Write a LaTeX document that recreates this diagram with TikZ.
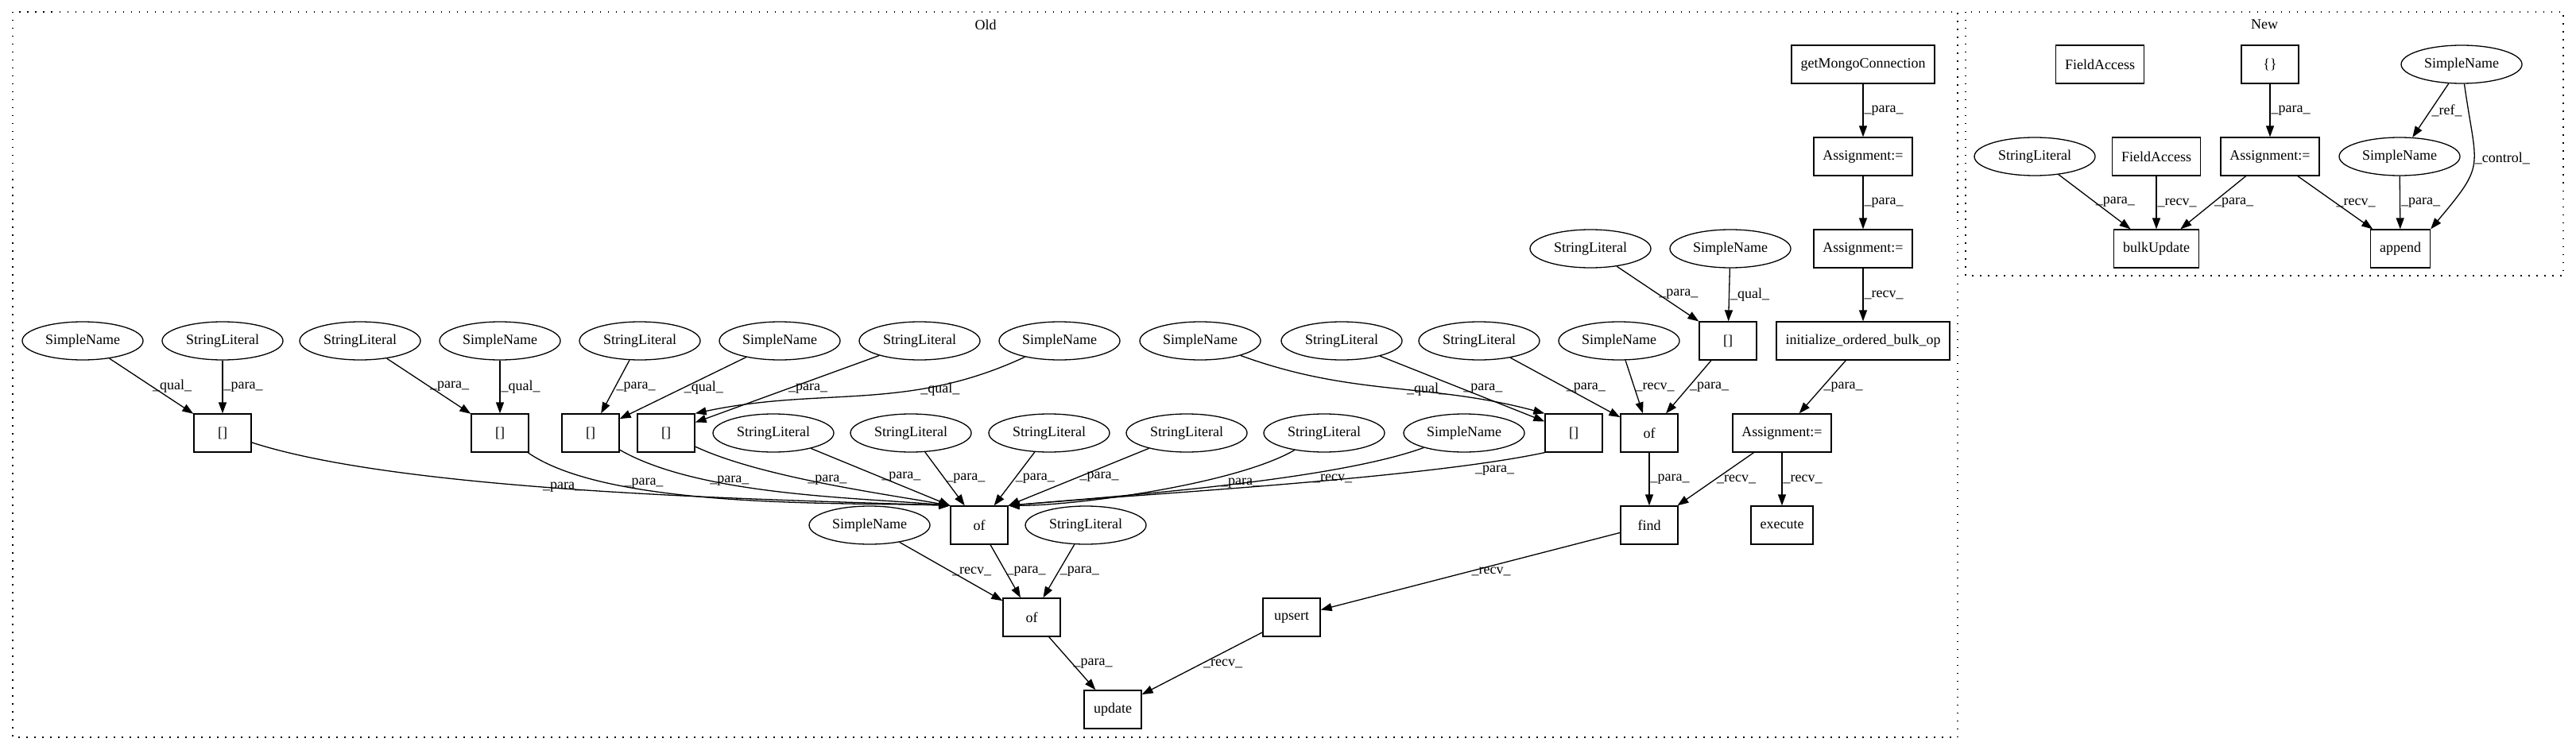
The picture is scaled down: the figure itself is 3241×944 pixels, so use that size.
\documentclass[tikz,border=0pt]{standalone}
\usepackage{fontspec}
\setmainfont{Liberation Serif}
\usetikzlibrary{shapes.geometric,arrows.meta}

\tikzset{
	box/.style={draw, rectangle, minimum width=72pt, minimum height=48pt, inner xsep=11.5pt},
	oval/.style={draw, ellipse, minimum width=152pt, minimum height=48pt, inner sep=0pt},
	lbl/.style={anchor=west, inner sep=1pt},
	frame/.style={draw, line width=1.5pt, dash pattern=on 1.5pt off 8.5pt}
}

\begin{document}
\begin{tikzpicture}[x=1pt, y=-1pt, line width=1.3pt, font=\fontsize{18}{22}\selectfont, >={Triangle[length=14pt,width=10pt]}]
			\useasboundingbox (0,0) rectangle (3241,944);
			\draw[frame] (16,15) rectangle (2463,928);
			\draw[frame] (2473,15) rectangle (3225,347);
			\node	(old) at (1240,31) {Old};
			\node	(new) at (2849,31) {New};
			
			\node	(gmc) at (2344,81) [box] {getMongoConnection};
			\node	(as1) at (2344,197) [box] {Assignment:=};
			\node	(sl3) at (2001,313) [oval] {StringLiteral};
			\node	(sn3) at (2177,313) [oval] {SimpleName};
			\node	(as2) at (2344,313) [box] {Assignment:=};
			
			\node	(e1) at (104,429) [oval] {SimpleName};
			\node	(e2) at (280,429) [oval] {StringLiteral};
			\node	(e3) at (453,429) [oval] {StringLiteral};
			\node	(e4) at (629,429) [oval] {SimpleName};
			\node	(e5) at (805,429) [oval] {StringLiteral};
			\node	(e6) at (981,429) [oval] {SimpleName};
			\node	(e7) at (1157,429) [oval] {StringLiteral};
			\node	(e8) at (1333,429) [oval] {SimpleName};
			\node	(e9) at (1510,429) [oval] {SimpleName};
			\node	(e10) at (1688,429) [oval] {StringLiteral};
			\node	(e11) at (1861,429) [oval] {StringLiteral};
			\node	(e12) at (2037,429) [oval] {SimpleName};
			\node	(b6) at (2174,429) [box] {[]};
			\node	(init) at (2344,429) [box] {initialize\_ordered\_bulk\_op};
			
			\node	(b1) at (280,545) [box] {[]};
			\node	(b2) at (629,545) [box] {[]};
			\node	(b3) at (743,545) [box] {[]};
			\node	(b4) at (838,545) [box] {[]};
			\node	(f1) at (973,545) [oval] {StringLiteral};
			\node	(f2) at (1146,545) [oval] {StringLiteral};
			\node	(f3) at (1320,545) [oval] {StringLiteral};
			\node	(f4) at (1493,545) [oval] {StringLiteral};
			\node	(f5) at (1666,545) [oval] {StringLiteral};
			\node	(f6) at (1842,545) [oval] {SimpleName};
			\node	(b5) at (1980,545) [box] {[]};
			\node	(of1) at (2075,545) [box] {of};
			\node	(as3) at (2242,545) [box] {Assignment:=};
			
			\node	(g1) at (1094,661) [oval] {SimpleName};
			\node	(of2) at (1232,661) [box] {of};
			\node	(g2) at (1366,661) [oval] {StringLiteral};
			\node	(find) at (2075,661) [box] {find};
			\node	(exec) at (2242,661) [box] {execute};
			\node	(of3) at (1298,777) [box] {of};
			\node	(ups) at (1625,777) [box] {upsert};
			\node	(upd) at (1400,893) [box] {update};
			
			\node	(fa1) at (2642,81) [box] {FieldAccess};
			\node	(br) at (2856,81) [box] {\{\}};
			\node	(nsn1) at (3097,81) [oval] {SimpleName};
			\node	(nsl) at (2560,197) [oval] {StringLiteral};
			\node	(fa2) at (2713,197) [box] {FieldAccess};
			\node	(nas) at (2856,197) [box] {Assignment:=};
			\node	(nsn2) at (3019,197) [oval] {SimpleName};
			\node	(bulk) at (2713,313) [box] {bulkUpdate};
			\node	(app) at (3020,313) [box] {append};
			
			\draw 
			(gmc) edge[->] node[lbl] {\_para\_} (as1)
			(as1) edge[->] node[lbl] {\_para\_} (as2)
			(as2) edge[->] node[lbl] {\_recv\_} (init)
			(init) edge[->] node[lbl] {\_para\_} (as3)
			(as3) edge[->] node[lbl] {\_recv\_} (find)
			(as3) edge[->] node[lbl] {\_recv\_} (exec)
			(of1) edge[->] node[lbl] {\_para\_} (find)
			(find) edge[->] node[lbl] {\_recv\_} (ups)
			(ups) edge[->] node[lbl] {\_recv\_} (upd)
			(of3) edge[->] node[lbl] {\_para\_} (upd)
			(of2) edge[->] node[lbl] {\_para\_} (of3)
			(g1) edge[->] node[lbl] {\_recv\_} (of3)
			(g2) edge[->] node[lbl] {\_para\_} (of3)
			(sl3) edge[->] node[lbl] {\_para\_} (b6)
			(sn3) edge[->] node[lbl] {\_qual\_} (b6)
			(b6) edge[->] node[lbl] {\_para\_} (of1)
			(e11) edge[->] node[lbl] {\_para\_} (of1)
			(e12) edge[->] node[lbl] {\_recv\_} (of1)
			(e9) edge[->, out=-20, in=165] node[lbl, pos=0.55] {\_qual\_} (b5.north west)
			(e10) edge[->] node[lbl] {\_para\_} (b5)
			(e1) edge[->] node[lbl] {\_qual\_} (b1)
			(e2) edge[->] node[lbl] {\_para\_} (b1)
			(e3) edge[->] node[lbl] {\_para\_} (b2)
			(e4) edge[->] node[lbl] {\_qual\_} (b2)
			(e5) edge[->] node[lbl] {\_para\_} (b3)
			(e6) edge[->] node[lbl] {\_qual\_} (b3)
			(e7) edge[->] node[lbl] {\_para\_} (b4)
			(e8) edge[->, out=-155, in=12] node[lbl, pos=0.32] {\_qual\_} (b4.north east)
			(b1) edge[->, out=-18, in=178, looseness=0.6] node[lbl, pos=0.43] {\_para\_} (of2.north west)
			(b2) edge[->, out=-35, in=178, looseness=0.6] node[lbl, pos=0.27, yshift=4pt] {\_para\_} (of2.north west)
			(b3) edge[->, out=-30, in=175, looseness=0.7] node[lbl, pos=0.3] {\_para\_} (of2.north west)
			(b4) edge[->, out=-25, in=170, looseness=0.7] node[lbl, pos=0.45] {\_para\_} (of2.north west)
			(f1) edge[->] node[lbl] {\_para\_} (of2.north west)
			(f2) edge[->] node[lbl] {\_para\_} (of2)
			(f3) edge[->] node[lbl] {\_para\_} (of2)
			(f4) edge[->] node[lbl] {\_para\_} (of2.north east)
			(f5) edge[->, out=-150, in=0, looseness=0.6] node[lbl, anchor=north west, pos=0.3] {\_para\_} (of2.north east)
			(f6) edge[->, out=-160, in=5, looseness=0.6] node[lbl, anchor=north west, pos=0.3] {\_recv\_} (of2.north east)
			(b5.south west) edge[->, out=-168, in=5, looseness=0.6] node[lbl, anchor=north west, pos=0.16] {\_para\_} (of2.north east)
			;
			
			\draw 
			(br) edge[->] node[lbl] {\_para\_} (nas)
			(nsn1) edge[->] node[lbl] {\_ref\_} (nsn2)
			(nsn1) edge[->, out=-82, in=50, looseness=1.5] node[lbl, pos=0.45] {\_control\_} (app.north east)
			(nsl) edge[->] node[lbl] {\_para\_} (bulk)
			(fa2) edge[->] node[lbl] {\_recv\_} (bulk)
			(nas) edge[->] node[lbl] {\_para\_} (bulk)
			(nas) edge[->] node[lbl] {\_recv\_} (app)
			(nsn2) edge[->] node[lbl] {\_para\_} (app)
			;
		\end{tikzpicture}
\end{document}
